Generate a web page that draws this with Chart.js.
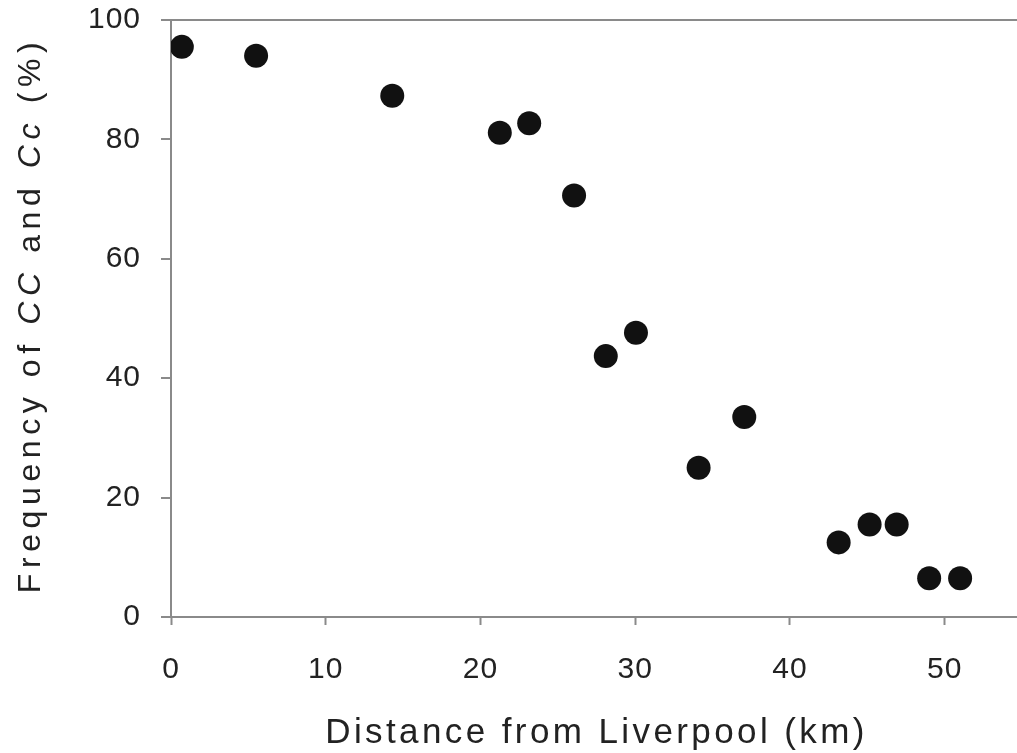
<!DOCTYPE html>
<html>
<head>
<meta charset="utf-8">
<script src="https://cdn.jsdelivr.net/npm/chart.js@4"></script>
<style>
    html, body { margin: 0; padding: 0; background: #fff; overflow: hidden; }
    #wrap { width: 1034px; height: 753px; position: relative; }
</style>
</head>
<body>
<div id="wrap"><canvas id="scatterChart"></canvas></div>
<script>
// distance from Liverpool (km) and frequency of CC and Cc (%)
var distanceKm = [0.7, 5.5, 14.3, 21.25, 23.15, 26.05, 28.1, 30.05, 34.1, 37.05, 43.15, 45.15, 46.9, 49.0, 51.0];
var frequencyPct = [95.5, 94.0, 87.3, 81.1, 82.7, 70.6, 43.7, 47.6, 25.0, 33.5, 12.5, 15.5, 15.5, 6.5, 6.5];
var xTickValues = [0, 10, 20, 30, 40, 50];
var yTickValues = [0, 20, 40, 60, 80, 100];

var AXIS_GREY = '#8a8a8a';
var TEXT_COLOR = '#222';
var FONT = '"Liberation Sans", Arial, sans-serif';

var points = distanceKm.map(function (d, i) {
    return { x: d, y: frequencyPct[i] };
});

// axis titles drawn by hand so CC / Cc can be italic
var axisTitles = {
    id: 'axisTitles',
    beforeDraw: function (chart) {
        chart.ctx.letterSpacing = '1px';
    },
    afterDraw: function (chart) {
        var ctx = chart.ctx;
        var area = chart.chartArea;
        ctx.save();
        ctx.fillStyle = TEXT_COLOR;
        ctx.textBaseline = 'middle';

        // x title
        ctx.letterSpacing = '3.4px';
        ctx.font = '35px ' + FONT;
        ctx.textAlign = 'center';
        ctx.fillText('Distance from Liverpool (km)', (area.left + area.right) / 2, 733);

        // y title, mixed upright / italic pieces
        var parts = [
            ['Frequency of ', false],
            ['CC', true],
            [' and ', false],
            ['Cc', true],
            [' (%)', false]
        ];
        ctx.letterSpacing = '5.6px';
        var total = 0;
        parts.forEach(function (p) {
            ctx.font = (p[1] ? 'italic ' : '') + '32px ' + FONT;
            p.push(ctx.measureText(p[0]).width);
            total += p[2];
        });
        ctx.translate(31, 315);
        ctx.rotate(-Math.PI / 2);
        ctx.textAlign = 'left';
        var x = -total / 2;
        parts.forEach(function (p) {
            ctx.font = (p[1] ? 'italic ' : '') + '32px ' + FONT;
            ctx.fillText(p[0], x, 0);
            x += p[2];
        });
        ctx.restore();
    }
};

var ctx = document.getElementById('scatterChart').getContext('2d');
var myChart = new Chart(ctx, {
    type: 'scatter',
    plugins: [axisTitles],
    data: {
        datasets: [{
            label: 'Frequency',
            data: points,
            backgroundColor: '#111',
            borderWidth: 0,
            pointRadius: 12,
            pointHoverRadius: 12
        }]
    },
    options: {
        responsive: true,
        maintainAspectRatio: false,
        animation: false,
        layout: {
            padding: { left: 0, right: 0, top: 20, bottom: 0 }
        },
        plugins: {
            legend: { display: false },
            tooltip: { enabled: false }
        },
        scales: {
            x: {
                type: 'linear',
                min: 0,
                max: 55,
                afterFit: function (scale) {
                    scale.height = 136;
                    scale.paddingLeft = 0;
                    scale.paddingRight = 0;
                },
                afterBuildTicks: function (scale) {
                    scale.ticks = xTickValues.map(function (v) { return { value: v }; });
                },
                border: { color: AXIS_GREY, width: 2 },
                grid: {
                    color: 'rgba(0,0,0,0)',
                    tickColor: AXIS_GREY,
                    tickLength: 8,
                    tickWidth: 2
                },
                ticks: {
                    color: TEXT_COLOR,
                    padding: 27,
                    maxRotation: 0,
                    font: { family: FONT, size: 30 }
                }
            },
            y: {
                min: 0,
                max: 100,
                afterFit: function (scale) {
                    scale.width = 171;
                    scale.paddingTop = 0;
                    scale.paddingBottom = 0;
                },
                afterBuildTicks: function (scale) {
                    scale.ticks = yTickValues.map(function (v) { return { value: v }; });
                },
                border: { color: AXIS_GREY, width: 2 },
                grid: {
                    color: function (c) {
                        return c.tick && c.tick.value === 100 ? AXIS_GREY : 'rgba(0,0,0,0)';
                    },
                    lineWidth: 2,
                    tickColor: AXIS_GREY,
                    tickLength: 10,
                    tickWidth: 2
                },
                ticks: {
                    color: TEXT_COLOR,
                    padding: 20,
                    font: { family: FONT, size: 30 }
                }
            }
        }
    }
});
</script>
</body>
</html>
